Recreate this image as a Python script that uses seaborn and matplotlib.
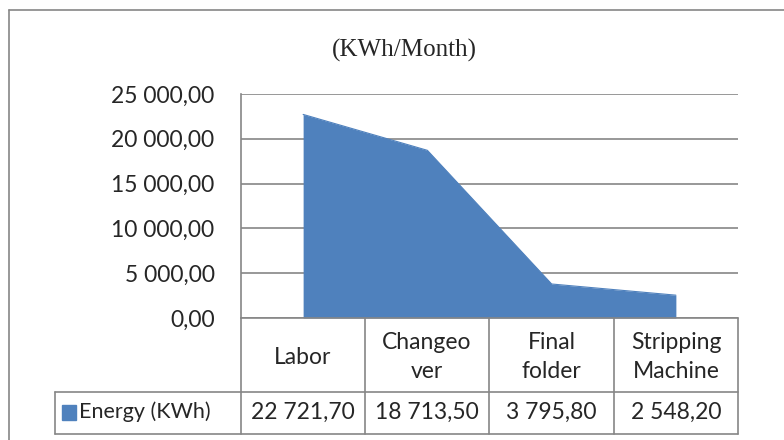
import numpy as np
import pandas as pd
import matplotlib.pyplot as plt
import seaborn as sns
from matplotlib.lines import Line2D
from matplotlib.patches import Rectangle

categories = ["Labor", "Changeo\nver", "Final\nfolder", "Stripping\nMachine"]
energy = [22721.70, 18713.50, 3795.80, 2548.20]
value_labels = ["22 721,70", "18 713,50", "3 795,80", "2 548,20"]
series_name = "Energy (KWh)"
title = "(KWh/Month)"
yticks = [0, 5000, 10000, 15000, 20000, 25000]

blue = "#4F81BD"
grid = "#868686"
fs = 16.5

sns.set_style("white")
plt.rcParams["font.family"] = ["Lato", "DejaVu Sans"]

df = pd.DataFrame({"pos": np.arange(len(categories)), "energy": energy})

W, H = 784, 440
fig = plt.figure(figsize=(W / 100, H / 100), dpi=100)
L, R, T, B = 241, 738, 94, 318
ax = fig.add_axes([L / W, 1 - B / H, (R - L) / W, (B - T) / H])

sns.lineplot(data=df, x="pos", y="energy", color=blue, linewidth=0.8, ax=ax)
ax.fill_between(df["pos"], df["energy"], color=blue, linewidth=0)

ax.set_xlim(-0.5, len(categories) - 0.5)
ax.set_ylim(0, 25000)
ax.set_yticks(yticks)
ax.set_yticklabels([f"{v:,.2f}".replace(",", " ").replace(".", ",") for v in yticks])
ax.set_xticks([])
ax.set_xlabel("")
ax.set_ylabel("")
ax.tick_params(axis="y", length=0, pad=19, labelsize=fs)
for s in ["top", "right", "bottom"]:
    ax.spines[s].set_visible(False)
ax.spines["left"].set_color(grid)
ax.spines["left"].set_linewidth(1.2)
for v in yticks:
    ax.axhline(v, color=grid, linewidth=1.2, zorder=0)
ax.set_axisbelow(True)

# data table below the plot, positions in pixels
def fx(px):
    return (px - L) / (R - L)

def fy(py):
    return (B - py) / (B - T)

cols = [241, 365, 489, 614, 738]
lw = 1.2
def line(x0, y0, x1, y1):
    ax.add_line(Line2D([fx(x0), fx(x1)], [fy(y0), fy(y1)], transform=ax.transAxes,
                       color=grid, linewidth=lw, clip_on=False))

line(241, 318, 738, 318)
line(55, 392, 738, 392)
line(55, 434, 738, 434)
line(55, 392, 55, 434)
for c in cols:
    line(c, 318, c, 434)

for i, cat in enumerate(categories):
    cx = (cols[i] + cols[i + 1]) / 2
    ax.text(fx(cx), fy(357), cat, transform=ax.transAxes, ha="center", va="center",
            fontsize=fs, linespacing=1.5)
    ax.text(fx(cx), fy(412), value_labels[i], transform=ax.transAxes, ha="center",
            va="center", fontsize=fs)

ax.add_patch(Rectangle((fx(62), fy(420)), fx(76) - fx(62), fy(405) - fy(420),
                       transform=ax.transAxes, color=blue, clip_on=False))
ax.text(fx(79), fy(412), series_name, transform=ax.transAxes, ha="left", va="center",
        fontsize=15.5)

fig.text(404 / W, 1 - 50 / H, title, ha="center", va="center", fontsize=18,
         family=["Liberation Serif", "DejaVu Serif"])

# chart area border
fig.add_artist(Line2D([9 / W, 1], [1 - 10 / H, 1 - 10 / H], color=grid, linewidth=1.2))
fig.add_artist(Line2D([9 / W, 9 / W], [0, 1 - 10 / H], color=grid, linewidth=1.2))

fig.savefig("out.png", dpi=100)
